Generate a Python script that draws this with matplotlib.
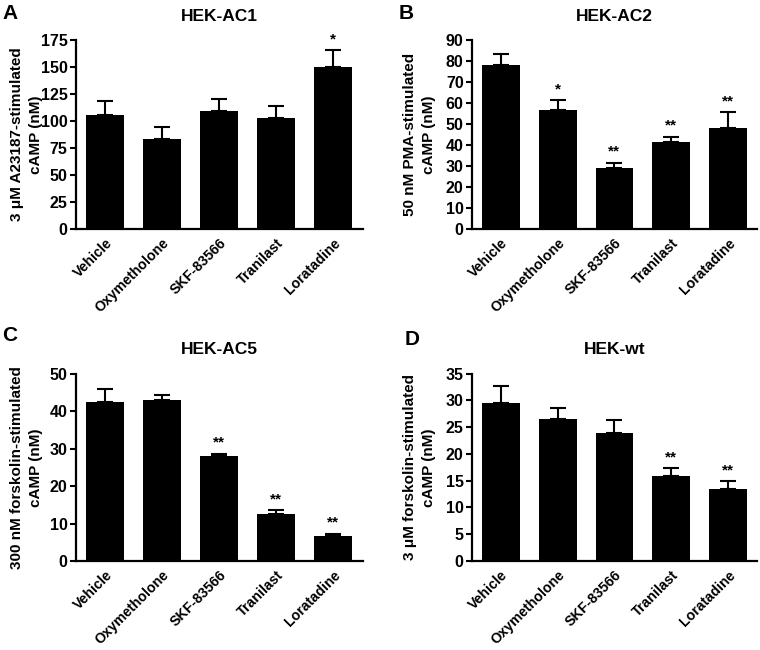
import matplotlib
matplotlib.use('Agg')
import matplotlib.pyplot as plt
import numpy as np

plt.rcParams['font.family'] = ['Liberation Sans', 'DejaVu Sans']
plt.rcParams['font.weight'] = 'bold'

# Data
drugs = ['Vehicle', 'Oxymetholone', 'SKF-83566', 'Tranilast', 'Loratadine']

ac1_mean = [105.4, 83.8, 109.2, 103.0, 150.0]
ac1_err = [13.6, 10.8, 11.4, 10.8, 15.7]
ac1_sig = ['', '', '', '', '*']

ac2_mean = [78.1, 56.6, 28.8, 41.3, 48.3]
ac2_err = [5.4, 4.8, 2.7, 2.6, 7.3]
ac2_sig = ['', '*', '**', '**', '**']

ac5_mean = [42.5, 43.1, 28.0, 12.6, 6.7]
ac5_err = [3.4, 1.3, 0.6, 1.0, 0.6]
ac5_sig = ['', '', '**', '**', '**']

wt_mean = [29.6, 26.6, 23.9, 15.8, 13.5]
wt_err = [3.1, 2.0, 2.5, 1.5, 1.4]
wt_sig = ['', '', '', '**', '**']

titles = ['HEK-AC1', 'HEK-AC2', 'HEK-AC5', 'HEK-wt']
letters = ['A', 'B', 'C', 'D']
ylabels = ['3 \u03bcM A23187-stimulated\ncAMP (nM)',
           '50 nM PMA-stimulated\ncAMP (nM)',
           '300 nM forskolin-stimulated\ncAMP (nM)',
           '3 \u03bcM forskolin-stimulated\ncAMP (nM)']
ymax = [175, 90, 50, 35]
ystep = [25, 10, 10, 5]

means = [ac1_mean, ac2_mean, ac5_mean, wt_mean]
errs = [ac1_err, ac2_err, ac5_err, wt_err]
sigs = [ac1_sig, ac2_sig, ac5_sig, wt_sig]

# Layout
fig = plt.figure(figsize=(7.6, 6.5), dpi=100)
rects = [[0.100, 0.648, 0.377, 0.290],
         [0.621, 0.648, 0.375, 0.290],
         [0.100, 0.137, 0.377, 0.288],
         [0.621, 0.137, 0.375, 0.288]]
letter_pos = [(0.003, 0.994), (0.525, 0.994), (0.003, 0.498), (0.532, 0.493)]
label_x = [-0.115, -0.125, -0.115, -0.125]

x = np.arange(len(drugs))
for i in range(4):
    ax = fig.add_axes(rects[i])
    ax.bar(x, means[i], width=0.667, color='black', zorder=2)
    ax.errorbar(x, means[i], yerr=[np.zeros(len(x)), errs[i]], fmt='none',
                ecolor='black', elinewidth=1.5, capsize=6, capthick=1.5, zorder=1)
    for xi, m, e, s in zip(x, means[i], errs[i], sigs[i]):
        if s:
            ax.annotate(s, (xi, m + e), xytext=(0, 5), textcoords='offset points',
                        ha='center', va='baseline', fontsize=11, fontweight='bold')

    ax.set_xlim(-0.51, 4.51)
    ax.set_ylim(0, ymax[i])
    ax.set_yticks(np.arange(0, ymax[i] + 1, ystep[i]))
    ax.set_xticks(x)
    ax.set_xticklabels(drugs, rotation=45, ha='right', rotation_mode='anchor',
                       fontsize=10.2, fontweight='bold')
    ax.tick_params(axis='x', length=0, pad=5)
    ax.tick_params(axis='y', length=4, width=1.5, direction='out', labelsize=11.5, pad=2)
    for lab in ax.get_yticklabels():
        lab.set_fontweight('bold')

    for side in ['top', 'right']:
        ax.spines[side].set_visible(False)
    for side in ['left', 'bottom']:
        ax.spines[side].set_linewidth(1.6)

    ax.set_title(titles[i], fontsize=12.5, fontweight='bold', pad=14)
    ax.set_ylabel(ylabels[i], fontsize=11, fontweight='bold', linespacing=1.5)
    ax.yaxis.set_label_coords(label_x[i], 0.5)

    fig.text(letter_pos[i][0], letter_pos[i][1], letters[i], fontsize=15,
             fontweight='bold', ha='left', va='top')

fig.savefig('out.png', dpi=100)
